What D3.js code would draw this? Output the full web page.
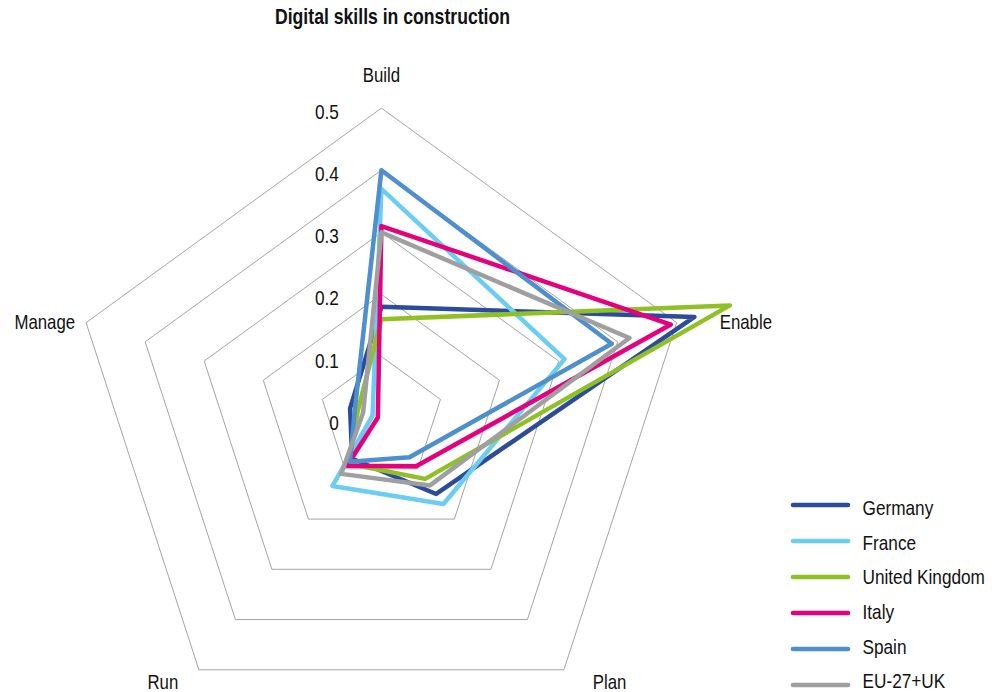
<!DOCTYPE html>
<html>
<head>
<meta charset="utf-8">
<script src="https://cdn.jsdelivr.net/npm/d3@7"></script>
<style>
  html, body { margin: 0; padding: 0; background: #fff; }
  svg { display: block; }
  text { font-family: "Liberation Sans", Arial, sans-serif; fill: #111; }
</style>
</head>
<body>
<svg id="chart" width="992" height="692"></svg>
<script>
// ---- data ----
const title = "Digital skills in construction";
const categories = ["Build", "Enable", "Plan", "Run", "Manage"];
const seriesNames = ["Germany", "France", "United Kingdom", "Italy", "Spain", "EU-27+UK"];
const germany = [0.18, 0.53, 0.15, 0.08, 0.053];
const france  = [0.37, 0.31, 0.17, 0.134, 0.015];
const uk      = [0.16, 0.59, 0.12, 0.09, 0.04];
const italy   = [0.31, 0.49, 0.095, 0.094, 0.006];
const spain   = [0.40, 0.39, 0.077, 0.086, 0.045];
const eu      = [0.30, 0.42, 0.133, 0.11, 0.031];
const tickValues = [0, 0.1, 0.2, 0.3, 0.4, 0.5];
const tickLabels = ["0", "0.1", "0.2", "0.3", "0.4", "0.5"];
const seriesColors = ["#2B4B9B", "#6CCDF3", "#8FC124", "#E5007D", "#4E8FCE", "#9F9F9F"];

// ---- layout ----
const svg = d3.select("#chart");
const cx = 381.4, cy = 418.6, R = 310.5;
const NARROW = 0.82; // horizontal compression to mimic a condensed face
const series = [germany, france, uk, italy, spain, eu];

function narrowText(parent, x, y, str, size, anchor, bold) {
  return parent.append("text")
    .attr("transform", `translate(${x},${y}) scale(${NARROW},1)`)
    .attr("text-anchor", anchor || "start")
    .style("font-size", size + "px")
    .style("font-weight", bold ? "bold" : "normal")
    .text(str);
}

const r = d3.scaleLinear().domain([0, 0.5]).range([0, R]);
const angle = d3.scalePoint().domain(categories).range([0, 2 * Math.PI * (categories.length - 1) / categories.length]);

const g = svg.append("g").attr("transform", `translate(${cx},${cy})`);

// title
narrowText(svg, 392.5, 23.5, title, 21.5, "middle", true);

// grid rings
const ringLine = d3.lineRadial()
  .angle(d => angle(d.c))
  .radius(d => r(d.v))
  .curve(d3.curveLinearClosed);

tickValues.filter(t => t > 0).forEach(t => {
  g.append("path")
    .attr("d", ringLine(categories.map(c => ({ c, v: t }))))
    .attr("fill", "none")
    .attr("stroke", "#9a9a9a")
    .attr("stroke-width", 0.9);
});

// tick labels
tickValues.forEach((t, i) => {
  narrowText(g, -42.5, -r(t) + 11, tickLabels[i], 21, "end");
});

// category labels
const labelPlacement = {
  "Build":  { anchor: "middle", dx: 0,    dy: -25.7 },
  "Enable": { anchor: "start",  dx: 43,   dy: 6.5 },
  "Plan":   { anchor: "middle", dx: 45.6, dy: 19.5 },
  "Run":    { anchor: "middle", dx: -36,  dy: 19.5 },
  "Manage": { anchor: "end",    dx: -11,  dy: 6.5 }
};
categories.forEach(c => {
  const a = angle(c);
  const x = Math.sin(a) * R, y = -Math.cos(a) * R;
  const p = labelPlacement[c];
  narrowText(g, x + p.dx, y + p.dy, c, 20.5, p.anchor);
});

// series
const seriesLine = d3.lineRadial()
  .angle((d, i) => angle(categories[i]))
  .radius(d => r(d))
  .curve(d3.curveLinearClosed);

series.forEach((vals, i) => {
  g.append("path")
    .attr("d", seriesLine(vals))
    .attr("fill", "none")
    .attr("stroke", seriesColors[i])
    .attr("stroke-width", 4.5)
    .attr("stroke-linejoin", "round");
});

// legend
const legend = svg.append("g").attr("transform", "translate(793,505)");
seriesNames.forEach((name, i) => {
  const y = i * 36;
  legend.append("line")
    .attr("x1", 0).attr("x2", 55).attr("y1", y).attr("y2", y)
    .attr("stroke", seriesColors[i])
    .attr("stroke-width", 4.7)
    .attr("stroke-linecap", "round");
  narrowText(legend, 69.5, 10.2 + i * 34.6, name, 21, "start");
});
</script>
</body>
</html>
